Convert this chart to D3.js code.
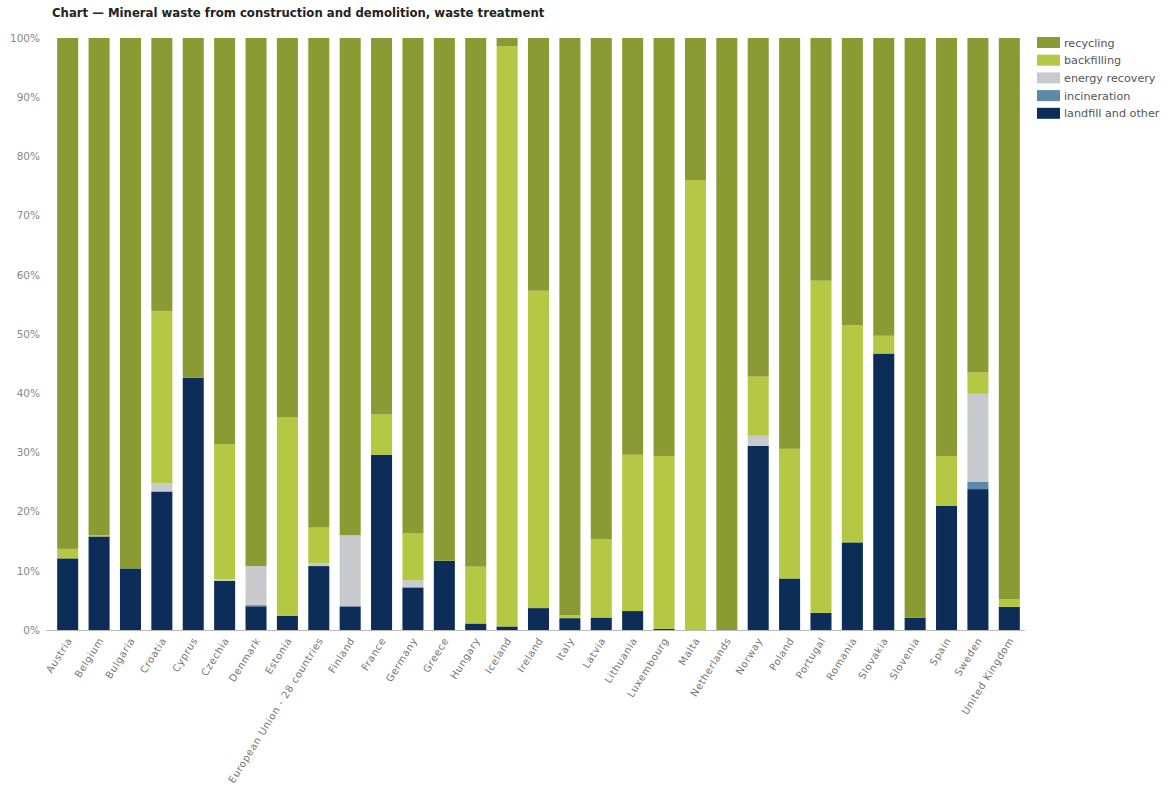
<!DOCTYPE html>
<html>
<head>
<meta charset="utf-8">
<script src="https://cdn.jsdelivr.net/npm/d3@7"></script>
<style>
    body { margin: 0; background: #ffffff; }
    #chart { width: 1169px; height: 785px; }
    text { font-family: "DejaVu Sans", Verdana, sans-serif; }
</style>
</head>
<body>
<div id="chart"></div>
<script>

    /*
    DATA (shares in %)
    */
    const countries = ["Austria", "Belgium", "Bulgaria", "Croatia", "Cyprus", "Czechia", "Denmark", "Estonia",
        "European Union - 28 countries", "Finland", "France", "Germany", "Greece", "Hungary", "Iceland", "Ireland",
        "Italy", "Latvia", "Lithuania", "Luxembourg", "Malta", "Netherlands", "Norway", "Poland", "Portugal",
        "Romania", "Slovakia", "Slovenia", "Spain", "Sweden", "United Kingdom"];

    const landfill     = [12.1, 15.8, 10.4, 23.4, 42.6, 8.3, 4.0, 2.4, 10.8, 4.0, 29.6, 7.2, 11.7, 1.1, 0.6, 3.7,
                          2.0, 2.1, 3.2, 0.2, 0, 0, 31.1, 8.7, 2.9, 14.8, 46.7, 2.1, 21.0, 23.8, 3.9];
    const incineration = [0, 0, 0, 0, 0, 0, 0.2, 0, 0, 0, 0, 0, 0, 0, 0, 0,
                          0, 0, 0, 0, 0, 0, 0, 0, 0, 0, 0, 0, 0, 1.2, 0];
    const energy       = [0, 0, 0, 1.4, 0, 0.3, 6.6, 0, 0.5, 12.0, 0, 1.2, 0, 0, 0, 0,
                          0, 0, 0, 0, 0, 0, 1.7, 0, 0, 0, 0, 0, 0, 14.9, 0];
    const backfilling  = [1.6, 0.2, 0, 29.1, 0, 22.8, 0, 33.5, 6.0, 0, 6.8, 7.9, 0, 9.6, 98.0, 53.6,
                          0.5, 13.2, 26.4, 29.2, 76.0, 0, 10.0, 21.9, 56.1, 36.7, 3.0, 0, 8.4, 3.6, 1.3];

    const seriesKeys = ["landfill and other", "incineration", "energy recovery", "backfilling", "recycling"];
    const seriesColors = ["#0c2d57", "#5d8aa8", "#c9cacd", "#b4c843", "#8b9b33"];
    const yTicks = [0, 10, 20, 30, 40, 50, 60, 70, 80, 90, 100];

    const data = countries.map(function(c, i) {
        const rest = 100 - landfill[i] - incineration[i] - energy[i] - backfilling[i];
        return {
            country: c,
            "landfill and other": landfill[i],
            "incineration": incineration[i],
            "energy recovery": energy[i],
            "backfilling": backfilling[i],
            "recycling": rest
        };
    });

    /*
    SVG
    */
    const width = 1169;
    const height = 785;
    const margin = {top: 38, left: 52, right: 144, bottom: 155};

    const svg = d3.select("#chart")
        .append("svg")
        .attr("width", width)
        .attr("height", height);

    /*
    SCALES
    */
    const xScale = d3.scaleBand()
        .domain(countries)
        .range([margin.left, width - margin.right])
        .paddingInner(0.33)
        .paddingOuter(0.165);

    const yScale = d3.scaleLinear()
        .domain([0, 100])
        .range([height - margin.bottom, margin.top]);

    const colorScale = d3.scaleOrdinal()
        .domain(seriesKeys)
        .range(seriesColors);

    const stacked = d3.stack().keys(seriesKeys)(data);

    /*
    TITLE
    */
    svg.append("text")
        .attr("x", 52)
        .attr("y", 17)
        .attr("font-size", "11.7px")
        .attr("font-weight", "bold")
        .attr("fill", "#222222")
        .text("Chart \u2014 Mineral waste from construction and demolition, waste treatment");

    /*
    Y AXIS (labels only)
    */
    const yAxis = svg.append("g")
        .attr("transform", `translate(${margin.left},0)`)
        .call(d3.axisLeft(yScale).tickValues(yTicks).tickFormat(d => d + "%").tickSize(0).tickPadding(12));
    yAxis.select(".domain").remove();
    yAxis.selectAll("text")
        .attr("font-size", "10.5px")
        .attr("fill", "#888888")
        .style("font-family", "DejaVu Sans, Verdana, sans-serif");

    /*
    BARS
    */
    svg.append("g")
        .selectAll("g")
        .data(stacked)
        .enter()
        .append("g")
            .attr("fill", d => colorScale(d.key))
        .selectAll("rect")
        .data(d => d)
        .enter()
        .append("rect")
            .attr("x", d => xScale(d.data.country))
            .attr("y", d => yScale(d[1]))
            .attr("width", xScale.bandwidth())
            .attr("height", d => Math.max(0, yScale(d[0]) - yScale(d[1])));

    /*
    X AXIS
    */
    const xAxis = svg.append("g")
        .attr("transform", `translate(0,${height - margin.bottom})`)
        .call(d3.axisBottom(xScale).tickSize(0).tickPadding(8));
    xAxis.select(".domain")
        .attr("stroke", "#bbbbbb")
        .attr("d", `M${margin.left - 6},0.5H${width - margin.right}`);
    xAxis.selectAll("text")
        .attr("font-size", "10px")
        .attr("letter-spacing", "0.6px")
        .attr("fill", "#777777")
        .style("font-family", "DejaVu Sans, Verdana, sans-serif")
        .attr("text-anchor", "end")
        .attr("transform", "translate(4,5) rotate(-58)")
        .attr("dy", "0.35em")
        .attr("y", 0)
        .attr("x", -4);

    /*
    LEGEND
    */
    const legendKeys = seriesKeys.slice().reverse();
    const legend = svg.append("g")
        .attr("transform", "translate(1037,37)");

    legend.selectAll("rect")
        .data(legendKeys)
        .enter()
        .append("rect")
            .attr("x", 0)
            .attr("y", (d, i) => i * 17.7)
            .attr("width", 23)
            .attr("height", 11)
            .attr("fill", d => colorScale(d));

    legend.selectAll("text")
        .data(legendKeys)
        .enter()
        .append("text")
            .attr("x", 27)
            .attr("y", (d, i) => i * 17.7 + 9.5)
            .attr("font-size", "11.2px")
            .attr("fill", "#555555")
            .text(d => d);

</script>
</body>
</html>
